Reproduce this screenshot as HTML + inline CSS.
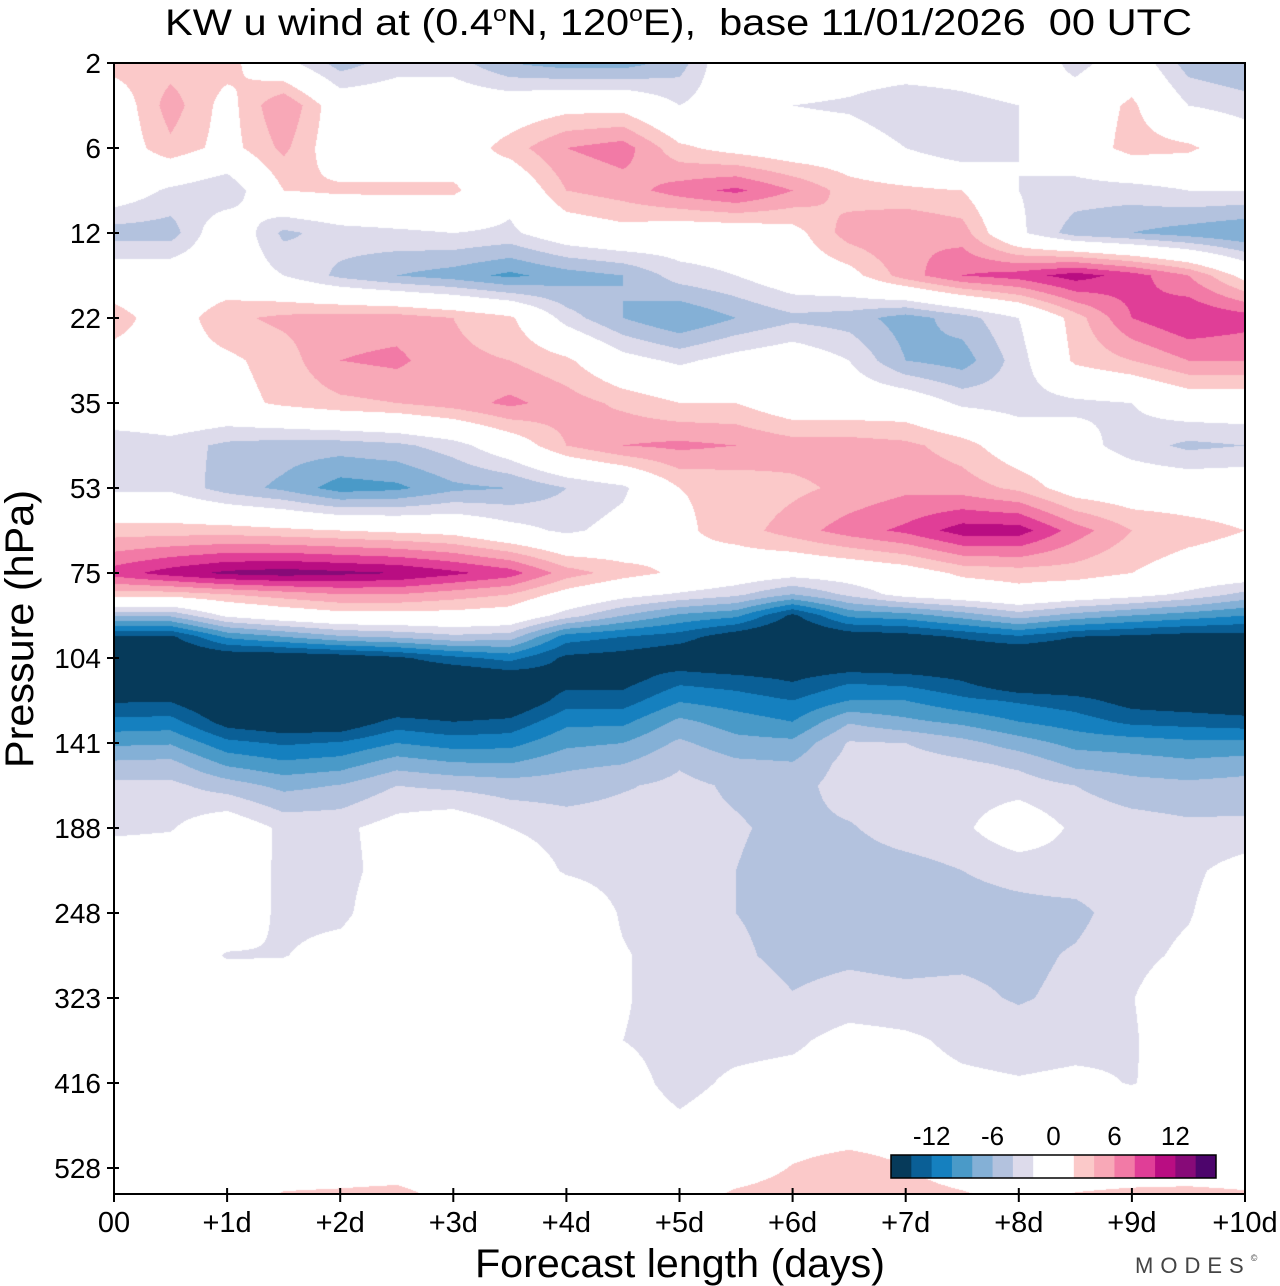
<!DOCTYPE html>
<html><head><meta charset="utf-8"><style>
body{margin:0;background:#fff;width:1280px;height:1286px;overflow:hidden;font-family:"Liberation Sans",sans-serif;}
#wrap{position:relative;width:1280px;height:1286px;}
canvas{position:absolute;left:114px;top:63px;}
svg{position:absolute;left:0;top:0;}
</style></head><body>
<div id="wrap">
<canvas id="cv" width="1131" height="1131"></canvas>
<svg id="sv" width="1280" height="1286">
<text x="165" y="35" font-size="37" textLength="1027" lengthAdjust="spacingAndGlyphs" xml:space="preserve">KW u wind at (0.4<tspan font-size="22" dy="-14">o</tspan><tspan dy="14">N, 120</tspan><tspan font-size="22" dy="-14">o</tspan><tspan dy="14">E),  base 11/01/2026  00 UTC</tspan></text>
<text transform="translate(33,768) rotate(-90)" font-size="40" textLength="278" lengthAdjust="spacingAndGlyphs">Pressure (hPa)</text>
<text x="475" y="1277" font-size="40" textLength="410" lengthAdjust="spacingAndGlyphs">Forecast length (days)</text>
<text x="1135" y="1273" font-size="22" fill="#444" letter-spacing="7">MODES<tspan font-size="9" dy="-12">©</tspan></text>
<g id="ax"></g>
</svg>
</div>
<script>
const levels=["2","6","12","22","35","53","75","104","141","188","248","323","416","528"];
const dayLabels=["00","+1d","+2d","+3d","+4d","+5d","+6d","+7d","+8d","+9d","+10d"];
const cbLabels=[-12,-6,0,6,12];
const times=[0,0.5,1,1.5,2,2.5,3,3.5,4,4.5,5,5.5,6,6.5,7,7.5,8,8.5,9,9.5,10];
// pressure level index (fractional tick index) of each data row
const rowLevels=[0,0.5,1,1.5,2,2.5,3,3.5,4,4.5,5,5.5,6,6.25,6.5,6.75,7,7.25,7.5,7.75,8,8.25,8.5,9,9.5,10,10.5,11,11.5,12,12.5,13,13.3];
const r00=[3,3,3,-1,-5,-3,-3,-6,-7,-7,-5,1,1,0,0,0,1,-3,0,-5,-6];
const r05=[0,5,1,6,0,0,0,0,1,1,-2,0,-2,-2.5,-4,-3,-2,0,2.5,-2,-3];
const r10=[0,3.5,1,4.5,0,0,0,3,6,7,2.5,1,0,0,-2,-4,-2,0,3,2.5,0];
const r15=[0,-2.5,-4,2,2.5,2.5,2.5,-1,4,5,7,8.5,6,3,2.5,2,-2,-3,-3,-2,-2];
const r20=[-5,-5,0.5,-4.5,-3,-2.5,-2,-2.5,0,1,0,0,1,5,6,5,-1.5,-5,-6,-7,-8];
const r25=[0,0,0,-2,-4.5,-6,-7,-8.5,-7,-6,-3,-2,0,1,5,8,9,11,9,6,1];
const r30=[3,0.5,3.5,4.5,5,5,4,2.5,-3,-6,-8,-6,-4.5,-5,-7,-5,-2,3,8,10,9];
const r35=[1,1,1.5,3,6,6.5,4.5,4,2.5,-1,-2.5,-1,0,-2,-6,-7,-3,2.5,4,6,6];
const r40=[1.5,1.5,1,2.5,3.5,4,5,6.5,5,3.5,2,2,0,0,0,-2.5,-3,-2.5,-2,0,0];
const r45=[-4,-3,-4.5,-5,-5,-4.5,-3,0,4,6,6.5,6,5,5,4.5,3,0,-1,-3,-4.5,-4];
const r50=[-2.5,-2.5,-5,-6.5,-9,-8.5,-6.5,-6,-4,-2.5,2,2.5,3.5,4.5,5.5,5,3.5,0.5,0,0,0];
const r55=[3,3,3,2.5,2,1.5,1,-1,-2.5,-1,1.5,3,5,7,8.5,11,11,7,4,3,2];
const r60=[9,11,12.5,13,12.5,12,10.5,9,5,3,1.5,0,-1,-0.5,0.5,2.5,3,3,2,0.5,0];
const r625=[3,3,4,5,6,6,5,4,1,-1,-2.3,-3.5,-6,-3.5,-1,0,1,0,-1,-2.5,-4.6];
const r65=[-5.6,-5.6,-1.5,0,1,1,1,0.5,-3,-6,-8.4,-9.5,-14.5,-9.5,-8.9,-7.1,-5,-6.8,-8,-9,-10];
const r675=[-14.5,-14.5,-9.6,-8,-6.3,-5.6,-4.5,-5,-11,-12,-13,-15.5,-17,-15.5,-15,-13.7,-12.3,-14,-14.5,-15,-15];
const r70=[-17,-17,-16,-16,-15.5,-14.5,-12.6,-11.3,-14.5,-15,-16,-17,-17,-17,-17,-17,-17,-17,-17,-17,-17];
const r725=[-17,-17,-17,-17,-17,-17,-17,-16,-15,-15,-12.7,-13.2,-14.3,-12.5,-13,-14.2,-17,-17,-17,-17,-17];
const r75=[-14.3,-14.2,-17,-17,-17,-17,-17,-16.5,-13,-13,-10.2,-11,-12,-10,-10,-11.5,-12.3,-13.2,-15,-15.5,-16];
const r775=[-11.4,-11.2,-15,-16,-16,-13.2,-14,-13.5,-10.5,-10.5,-7.5,-9,-10,-6.2,-7.5,-8.5,-10,-11,-12.5,-12.8,-13.2];
const r80=[-8.4,-8.2,-11.4,-12.3,-11.8,-10,-10.9,-10.7,-8.5,-8,-5.6,-7.3,-7.5,-3.8,-4,-5.3,-7,-8.7,-9,-9.5,-9.5];
const r825=[-5.5,-5.3,-8.3,-9.5,-8.9,-6.8,-7.7,-7.9,-6.5,-6,-4.2,-5.5,-5.8,-3.2,-3,-3.5,-4.4,-6.5,-7,-7.5,-7];
const r85=[-3.5,-3.5,-5,-6.6,-5.9,-4,-4.5,-5,-5,-4.2,-3.5,-4.3,-4.8,-3,-3,-3,-3,-4,-5.2,-5.5,-5.2];
const r90=[-2.5,-2.2,0,-2.5,-2.5,-1,0,-2,-3,-3,-3.5,-3.8,-4.5,-4.2,-3,-2.5,0,-2.5,-3,-3.5,-3.5];
const r95=[0,0,0.5,-2.7,-2.7,-1,0,0,-2.3,-3,-3.5,-4,-4.8,-5,-4.8,-4,-3.5,-3,-3,-2.5,-1];
const r100=[0,0,0,-2.6,-2.6,0,0,0,0.5,-2.3,-3.5,-4,-4.5,-4.8,-4.8,-4.6,-4.5,-4.5,-3,-2.2,0];
const r105=[0,0,-2.2,-2.1,-1,0,0,0,0,-1.8,-3,-3.7,-4.5,-4.3,-4.5,-4.4,-4.5,-3.8,-2.7,-1.5,0];
const r110=[0,0,0,0,0,0,0,0,0,-1.8,-3,-3,-3.9,-3.4,-3.6,-3.5,-4.2,-3.5,-2.1,0,0];
const r115=[0,0,0,0,0,0,0,0,-1.5,-2,-2.8,-2.8,-2.5,-1,-1.5,-2.6,-3,-2.7,-2.3,0,0];
const r120=[0,0,0,0,0,0,0,0,-1,-1,-2.8,-1.5,-1,-0.5,-1,-1.5,-1.8,-1.5,-2.1,-1,0];
const r125=[0,0,0,0,0,0,0,0,0,-0.5,-1.5,-0.5,0,0,0,0,0,0,0,0,0];
const r130=[0,0,0,0,0,0,0,0,0,0,0,0,2.2,3.5,2.1,0,0,0,0,0,0];
const r133=[0,0,0,2.2,2.5,3,0.5,0,0,0,0,2.5,3.5,3.8,3.3,2.3,0.5,2.1,2.6,2.8,2.3];
const grid=[r00,r05,r10,r15,r20,r25,r30,r35,r40,r45,r50,r55,r60,r625,r65,r675,r70,r725,r75,r775,r80,r825,r85,r90,r95,r100,r105,r110,r115,r120,r125,r130,r133];
const colors=["#063a5a","#0a5f96","#1580bf","#4a9ac8","#84b0d6","#b3c2de","#dddbeb","#ffffff","#fbc9c9","#f8a8b7","#f27aa6","#e03e97","#b90d82","#870a78","#4d056c"];
const bounds=[-14,-12,-10,-8,-6,-4,-2,2,4,6,8,10,12,14];

const X0=114,X1=1245,Y0=63,Y1=1194,LEVSTEP=85;
const xScale=t=>X0+(t-times[0])/(times[times.length-1]-times[0])*(X1-X0);
const yLevel=L=>Y0+L*LEVSTEP;
function colorIdx(v){let k=0;while(k<bounds.length&&v>=bounds[k])k++;return k;}
function hex(h){return [parseInt(h.slice(1,3),16),parseInt(h.slice(3,5),16),parseInt(h.slice(5,7),16)];}
const rgb=colors.map(hex);
(function(){
const cv=document.getElementById('cv'),ctx=cv.getContext('2d');
const W=cv.width,H=cv.height,img=ctx.createImageData(W,H);
const nc=times.length,nr=rowLevels.length;
for(let py=0;py<H;py++){
 const L=(py+0.5)/LEVSTEP;
 let r0=0;while(r0<nr-2&&rowLevels[r0+1]<=L)r0++;
 let ry=(L-rowLevels[r0])/(rowLevels[r0+1]-rowLevels[r0]);ry=Math.max(0,Math.min(1,ry));
 for(let px=0;px<W;px++){
  const t=times[0]+(px+0.5)/W*(times[nc-1]-times[0]);
  let c0=0;while(c0<nc-2&&times[c0+1]<=t)c0++;
  const cx=(t-times[c0])/(times[c0+1]-times[c0]);
  const a=grid[r0][c0],b=grid[r0][c0+1],c=grid[r0+1][c0],d=grid[r0+1][c0+1];
  const v=(a*(1-cx)+b*cx)*(1-ry)+(c*(1-cx)+d*cx)*ry;
  const col=rgb[colorIdx(v)],o=(py*W+px)*4;
  img.data[o]=col[0];img.data[o+1]=col[1];img.data[o+2]=col[2];img.data[o+3]=255;
 }}
ctx.putImageData(img,0,0);
const ns="http://www.w3.org/2000/svg",g=document.getElementById('ax');
function el(tag,attrs,txt){const e=document.createElementNS(ns,tag);for(const k in attrs)e.setAttribute(k,attrs[k]);if(txt!==undefined)e.textContent=txt;g.appendChild(e);return e;}
const frame=el('rect',{x:X0,y:Y0,width:X1-X0,height:Y1-Y0,fill:'none',stroke:'#000','stroke-width':2});


levels.forEach((lab,i)=>{const y=yLevel(i);
 const tk=el('line',{x1:X0-7,x2:X0+5,y1:y,y2:y,stroke:'#000','stroke-width':2});
 
 
 const tx=el('text',{x:X0-13,y:y+10,'font-size':28,'text-anchor':'end'},lab);
 
 
});
dayLabels.forEach((lab,i)=>{const x=xScale(i);
 const tk=el('line',{x1:x,x2:x,y1:Y1-6,y2:Y1+8,stroke:'#000','stroke-width':2});
 
 
 const tx=el('text',{x:x,y:Y1+38,'font-size':29,'text-anchor':'middle'},lab);
 
 
});
const cbX=891,cbW=325,cbY=1155,cbH=23,bw=cbW/16;
let pos=0;
colors.forEach((c,i)=>{const w=(i===7?2:1)*bw;
 const r=el('rect',{x:cbX+pos*bw,y:cbY,width:w+0.5,height:cbH,fill:c});
 
 
 pos+=(i===7?2:1);});
const cbb=el('rect',{x:cbX,y:cbY,width:cbW,height:cbH,fill:'none',stroke:'#000','stroke-width':1.5});


cbLabels.forEach(v=>{const x=cbX+(v+16)/2*bw;
 const tx=el('text',{x:x,y:cbY-10,'font-size':26,'text-anchor':'middle'},String(v));
 
 
});
})();
</script>
</body></html>
